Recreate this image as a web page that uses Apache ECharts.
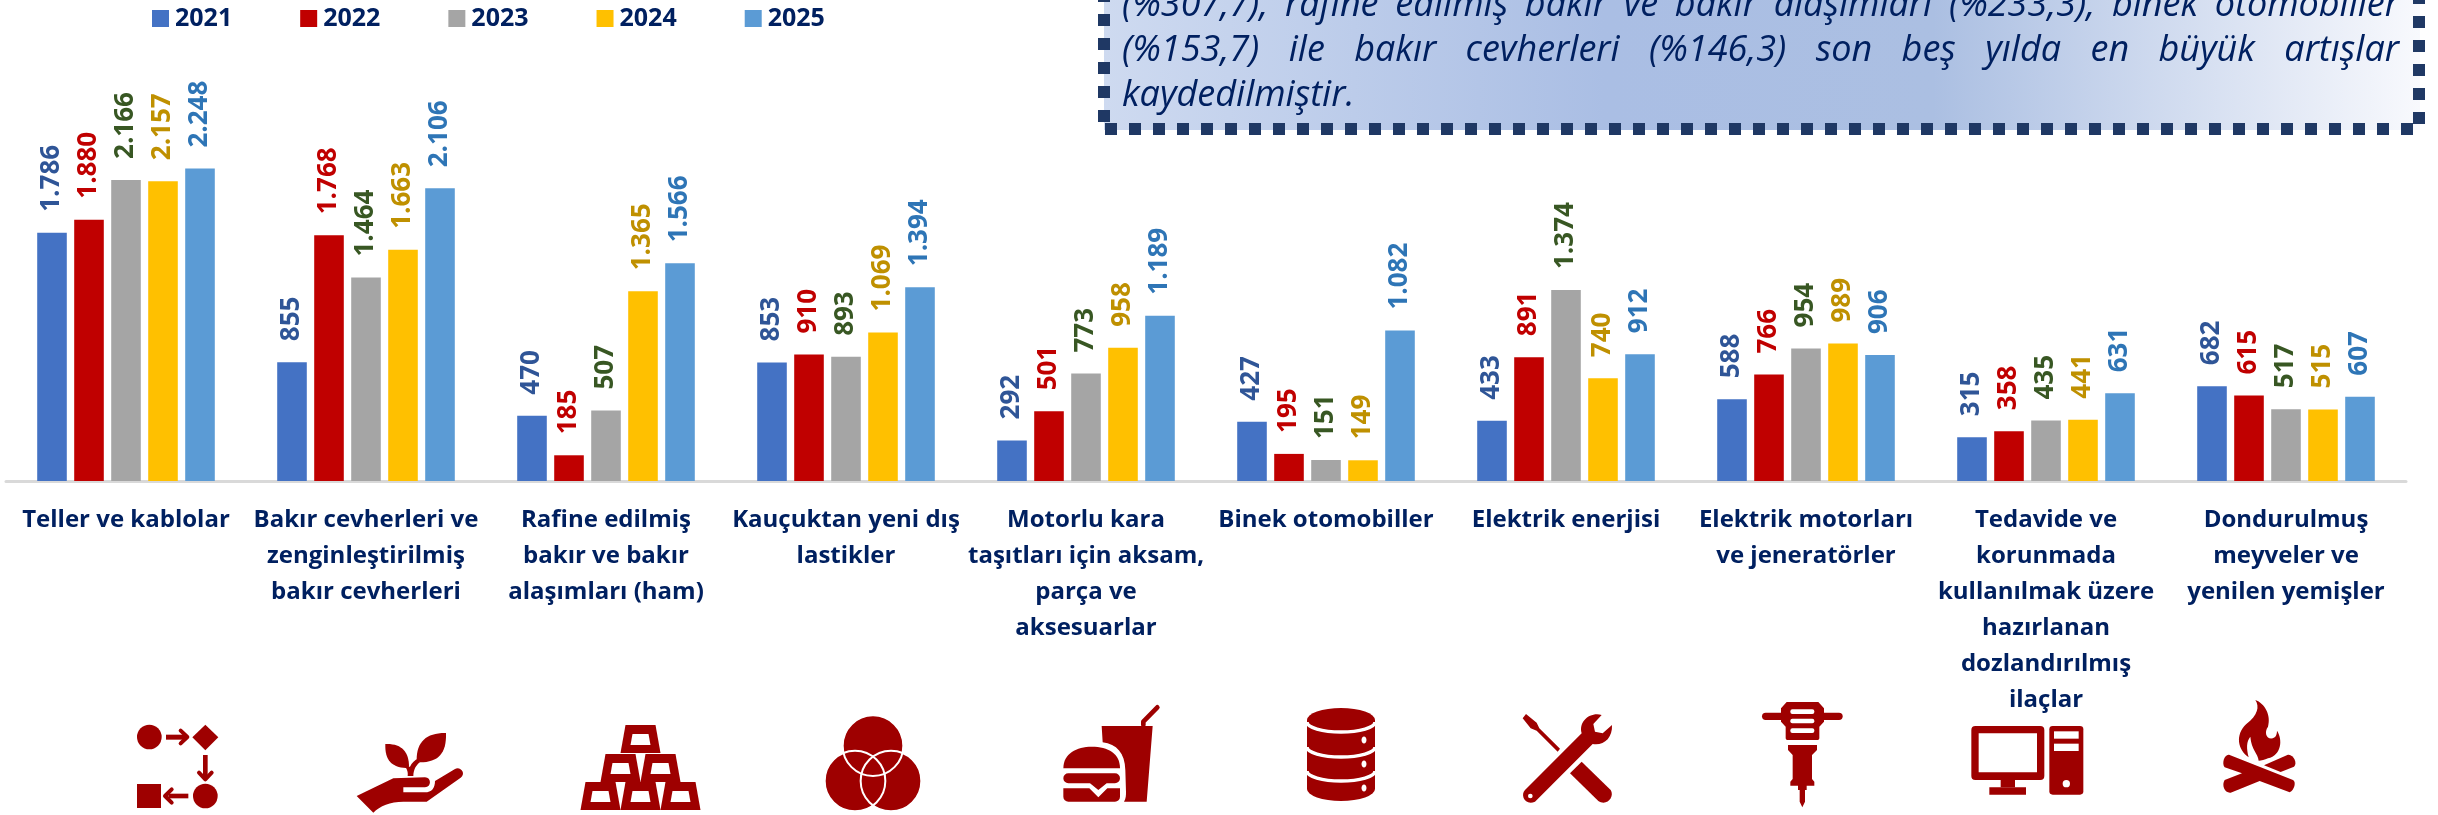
<!DOCTYPE html>
<html>
<head>
<meta charset="utf-8">
<script src="https://cdn.jsdelivr.net/npm/echarts@6/dist/echarts.min.js"></script>
<style>
  html, body { margin: 0; background: #fff; }
  #main { width: 2438px; height: 815px; }
</style>
</head>
<body>
<div id="main"></div>
<script>
const categories = [
  "Teller ve kablolar",
  "Bakır cevherleri ve\nzenginleştirilmiş\nbakır cevherleri",
  "Rafine edilmiş\nbakır ve bakır\nalaşımları (ham)",
  "Kauçuktan yeni dış\nlastikler",
  "Motorlu kara\ntaşıtları için aksam,\nparça ve\naksesuarlar",
  "Binek otomobiller",
  "Elektrik enerjisi",
  "Elektrik motorları\nve jeneratörler",
  "Tedavide ve\nkorunmada\nkullanılmak üzere\nhazırlanan\ndozlandırılmış\nilaçlar",
  "Dondurulmuş\nmeyveler ve\nyenilen yemişler"
];
const years = ["2021", "2022", "2023", "2024", "2025"];
const v2021 = [1786, 855, 470, 853, 292, 427, 433, 588, 315, 682];
const v2022 = [1880, 1768, 185, 910, 501, 195, 891, 766, 358, 615];
const v2023 = [2166, 1464, 507, 893, 773, 151, 1374, 954, 435, 517];
const v2024 = [2157, 1663, 1365, 1069, 958, 149, 740, 989, 441, 515];
const v2025 = [2248, 2106, 1566, 1394, 1189, 1082, 912, 906, 631, 607];
const allValues = [v2021, v2022, v2023, v2024, v2025];
const barColors = ["#4472C4", "#C00000", "#A5A5A5", "#FFC000", "#5B9BD5"];
const labelColors = ["#2F5597", "#C00000", "#385723", "#BF9000", "#2E75B6"];

const noteLines = [
  "(%307,7), rafine edilmiş bakır ve bakır alaşımları (%233,3), binek otomobiller",
  "(%153,7) ile bakır cevherleri (%146,3) son beş yılda en büyük artışlar",
  "kaydedilmiştir."
];

const navy = "#002060";
const iconRed = "#9E0000";
const font = '"Open Sans"';

// justified text box, one text element per word
const noteFont = 'italic 36px "Open Sans"';
const noteLeft = 1122, noteRight = 2399;
const noteBaseline = [6, 51, 96];
const measure = document.createElement("canvas").getContext("2d");
measure.font = noteFont;

function noteWords() {
  const out = [];
  noteLines.forEach((line, i) => {
    const words = line.split(" ");
    const widths = words.map(w => measure.measureText(w).width);
    const total = widths.reduce((a, b) => a + b, 0);
    const justify = i < noteLines.length - 1;
    const gap = justify ? (noteRight - noteLeft - total) / (words.length - 1) : 10;
    let x = noteLeft;
    words.forEach((w, k) => {
      out.push({
        type: "text", x: x, y: noteBaseline[i], z: 5,
        style: { text: w, font: noteFont, fill: navy, verticalAlign: "middle" }
      });
      x += widths[k] + gap;
    });
  });
  return out;
}

let pathCount = 0;
function path(d, style) {
  const name = "iconPath" + pathCount++;
  echarts.graphic.registerShape(name, echarts.graphic.extendPath(d));
  return { type: name, style: Object.assign({ fill: iconRed }, style) };
}
const red = d => path(d);
const cut = d => path(d, { fill: "#fff" });
const circle = (cx, cy, r, fill) => ({ type: "circle", shape: { cx, cy, r }, style: { fill: fill || iconRed } });
const rect = (x, y, width, height, r, fill) => ({ type: "rect", shape: { x, y, width, height, r: r || 0 }, style: { fill: fill || iconRed } });
const stroke = (points, w) => ({
  type: "polyline", shape: { points },
  style: { fill: null, stroke: iconRed, lineWidth: w, lineCap: "round", lineJoin: "round" }
});
// icons are traced in 3x crop coordinates, so groups scale by a third
const group = (x, y, children) => ({ type: "group", x, y, scaleX: 1 / 3, scaleY: 1 / 3, z: 4, children });

function ingot(cx, top) {
  return [
    red(`M${cx - 15} ${top}H${cx + 15}L${cx + 20} ${top + 28}H${cx - 20}Z`),
    cut(`M${cx - 8} ${top + 9}H${cx + 8}L${cx + 10} ${top + 20}H${cx - 10}Z`)
  ];
}

function icons() {
  const flow = group(110, 700, [
    circle(118, 111, 37),
    rect(168, 104, 60, 15),
    stroke([[212, 92], [232, 111], [212, 130]], 12),
    red("M286 74L325 112L286 151L247 112Z"),
    rect(279, 165, 14, 70),
    stroke([[267, 218], [286, 238], [305, 218]], 12),
    circle(286, 288, 37),
    rect(81, 252, 72, 72),
    rect(175, 281, 60, 14),
    stroke([[185, 268], [165, 288], [185, 308]], 12)
  ]);
  const hand = group(110, 700, [
    red("M826 132C875 130 897 155 897 200L888 204C845 202 824 180 826 132Z"),
    red("M1008 99C950 98 920 125 920 178L930 187C985 187 1010 160 1008 99Z"),
    red("M893 228C895 215 890 205 885 200L900 200C905 190 915 180 925 175L930 187C918 195 910 210 910 228Z"),
    red("M740 288L850 235L945 232C965 232 965 262 945 262L880 262L880 277L945 277C965 277 975 265 975 243L1035 207C1050 198 1070 220 1052 233L950 305L880 305C840 305 810 318 790 338Z")
  ]);
  const gold = { type: "group", z: 4, children: [].concat(
    ingot(600.5, 782), ingot(640.5, 782), ingot(680.5, 782),
    ingot(620.5, 754), ingot(660.5, 754),
    ingot(640.5, 725)
  ) };
  const venn = group(800, 700, [
    circle(219, 137, 90), circle(165, 243, 90), circle(273, 243, 90),
    { type: "circle", shape: { cx: 219, cy: 137, r: 91 }, style: { fill: null, stroke: "#fff", lineWidth: 6 } },
    { type: "circle", shape: { cx: 165, cy: 243, r: 91 }, style: { fill: null, stroke: "#fff", lineWidth: 6 } },
    { type: "circle", shape: { cx: 273, cy: 243, r: 91 }, style: { fill: null, stroke: "#fff", lineWidth: 6 } }
  ]);
  const food = group(800, 700, [
    red("M905 78L1058 78L1040 305L972 305C978 295 978 285 978 275L976 210C975 160 950 132 908 127Z"),
    stroke([[1030, 75], [1030, 65], [1072, 22]], 14),
    red("M790 205C790 160 830 140 875 140C925 140 960 160 960 205Z"),
    red("M805 220H945A15 15 0 0 1 945 250H920L895 270L870 250H805A15 15 0 0 1 805 220Z"),
    red("M790 265H868L895 292L922 265H960V290A15 15 0 0 1 945 305H805A15 15 0 0 1 790 290Z")
  ]);
  const band = y => path(`M1307 ${y}A34 10 0 0 0 1375 ${y}`, { fill: null, stroke: "#fff", lineWidth: 3.5 });
  const dbDot = y => ({ type: "ellipse", shape: { cx: 1364, cy: y, rx: 2.5, ry: 3.5 }, style: { fill: "#fff" } });
  const database = { type: "group", z: 4, children: [
    red("M1307 720A34 12 0 0 1 1375 720V789A34 12 0 0 1 1307 789Z"),
    band(722), band(747), band(771),
    dbDot(740), dbDot(764), dbDot(788)
  ] };
  const tools = group(1490, 700, [
    red("M108 42L140 68L148 85L210 146L203 155L140 92L122 85L98 55Z"),
    red("M275 100L105 270C90 285 105 318 135 305L308 132C340 138 368 115 366 75L338 100L315 95L310 72L335 45C300 35 265 65 275 100Z"),
    circle(121, 288, 7, "#fff"),
    red("M275 185L362 270C375 290 350 320 325 303L240 220Z")
  ]);
  const hammer = group(1490, 700, [
    rect(816, 38, 242, 22, 11),
    red("M890 6H985L1002 25V65L988 80V115A5 5 0 0 1 983 120H892A5 5 0 0 1 887 115V80L873 65V25Z"),
    rect(901, 28, 72, 14, 6, "#fff"),
    rect(901, 56, 72, 14, 6, "#fff"),
    rect(901, 85, 72, 14, 6, "#fff"),
    red("M894 135H981V150L966 165V237L973 245V257H950V270H945V305L937 322L929 305V270H924V257H901V245L908 237V165L894 150Z")
  ]);
  const computer = group(1918, 700, [
    rect(160, 78, 219, 162, 12),
    rect(182, 100, 175, 117, 0, "#fff"),
    rect(248, 240, 43, 22),
    rect(214, 262, 110, 22),
    rect(394, 78, 102, 206, 10),
    rect(408, 94, 74, 22, 0, "#fff"),
    rect(408, 131, 74, 22, 0, "#fff"),
    circle(445, 251, 11, "#fff")
  ]);
  const fire = group(1918, 700, [
    red("M1012 0C1040 10 1060 45 1050 80C1035 100 1050 125 1070 112C1075 108 1077 100 1077 92C1095 120 1090 165 1050 175C1040 180 1030 182 1022 182C1020 160 1000 150 997 110C985 125 985 145 992 172C960 150 950 105 985 72C1020 45 1025 20 1012 0Z"),
    red("M935 165L1125 240C1135 245 1130 270 1115 277L1025 243L938 278C920 280 910 255 920 240L972 220L920 202C910 190 920 160 935 165Z"),
    red("M1038 196L1108 165C1125 160 1140 190 1128 200L1088 216Z")
  ]);
  return [flow, hand, gold, venn, food, database, tools, hammer, computer, fire];
}

const dashed = points => ({
  type: "polyline", z: 3, shape: { points },
  style: { fill: null, stroke: "#1F3864", lineWidth: 12, lineDash: [12, 12] }
});

const chart = echarts.init(document.getElementById("main"));
chart.setOption({
  animation: false,
  backgroundColor: "#fff",
  legend: {
    left: 147, top: 1,
    icon: "rect", itemWidth: 17, itemHeight: 17, itemGap: 68,
    textStyle: { fontFamily: font, fontWeight: "bold", fontSize: 25, color: navy, padding: [0, 0, 0, 1] },
    data: years
  },
  grid: { left: 6, right: 32, top: 133.5, bottom: 334 },
  xAxis: {
    type: "category",
    data: categories,
    axisTick: { show: false },
    axisLine: { lineStyle: { color: "#D9D9D9", width: 3 } },
    axisLabel: {
      interval: 0, margin: 21, lineHeight: 36,
      fontFamily: font, fontWeight: "bold", fontSize: 24, color: navy, align: "center"
    }
  },
  yAxis: { type: "value", min: 0, max: 2500, show: false },
  series: years.map((y, i) => ({
    name: y,
    type: "bar",
    data: allValues[i],
    barGap: "25%",
    barCategoryGap: "26%",
    itemStyle: { color: barColors[i] },
    label: {
      show: true, position: "top", distance: 21, rotate: 90,
      align: "left", verticalAlign: "middle",
      fontFamily: font, fontWeight: "bold", fontSize: 26, color: labelColors[i],
      formatter: p => p.value.toLocaleString("tr-TR")
    }
  })),
  graphic: {
    elements: [
      {
        type: "rect", z: 2,
        shape: { x: 1104, y: -20, width: 1316, height: 150 },
        style: {
          fill: new echarts.graphic.LinearGradient(0, 0, 1, 0, [
            { offset: 0, color: "#CEDAF0" },
            { offset: 0.38, color: "#AABEE4" },
            { offset: 0.63, color: "#ABBFE2" },
            { offset: 1, color: "#F8F9FD" }
          ])
        }
      },
      dashed([[1104, 122], [1104, -10]]),
      dashed([[1105, 129], [2413, 129]]),
      dashed([[2419, 124], [2419, -10]])
    ].concat(noteWords(), icons())
  }
});
</script>
</body>
</html>
